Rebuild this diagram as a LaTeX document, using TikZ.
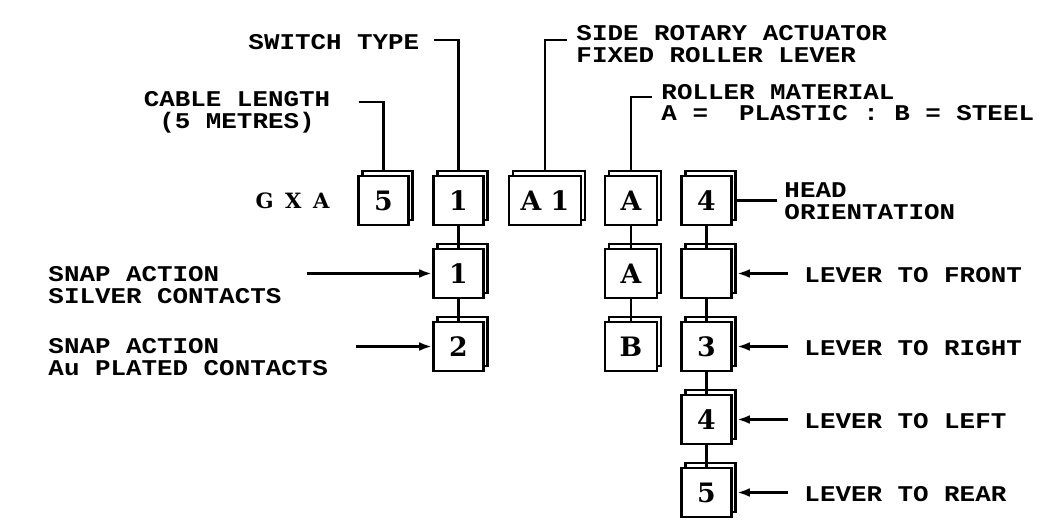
\documentclass[tikz,border=0pt]{standalone}
\usepackage{fontspec}
\newfontfamily\lblfont[FakeStretch=1.15]{Liberation Mono}
\newfontfamily\codefont{DejaVu Serif}
\usetikzlibrary{arrows.meta,shadows}

\begin{document}
\begin{tikzpicture}[x=0.025cm, y=-0.025cm, line width=2.1pt,
    codebox/.style={rectangle, draw, fill=white, minimum width=1.25cm, minimum height=1.225cm, inner sep=0pt,
        font=\codefont\bfseries\fontsize{19}{20}\selectfont, copy shadow={shadow xshift=0.1cm, shadow yshift=0.125cm}},
    lbl/.style={inner sep=0pt, align=left, font=\lblfont\bfseries\fontsize{16}{15.5}\selectfont},
    pointer/.style={-{Latex[length=0.32cm, width=0.22cm]}}]
    \useasboundingbox (0,0) rectangle (1058,526);

    % Code boxes
    \node (gxa) [font=\codefont\bfseries\fontsize{15}{16}\selectfont] at (292.5,200.5) {G\hspace{3pt} X\hspace{3pt} A};
    \node (b5) [codebox] at (383.5,200.5) {5};
    \node (b1) [codebox] at (458.5,200.5) {1};
    \node (bA1) [codebox, minimum width=1.8cm] at (545,200.5) {A 1};
    \node (bA) [codebox, minimum width=1.3cm] at (631,200.5) {A};
    \node (b4) [codebox] at (706.5,200.5) {4};

    % Choices
    \node (b1a) [codebox] at (458.5,273.5) {1};
    \node (b1b) [codebox] at (458.5,346.5) {2};
    \node (bAa) [codebox, minimum width=1.3cm] at (631,273.5) {A};
    \node (bAb) [codebox, minimum width=1.3cm] at (631,346.5) {B};
    \node (b4a) [codebox] at (706.5,273.5) {};
    \node (b4b) [codebox] at (706.5,346.5) {3};
    \node (b4c) [codebox] at (706.5,419.5) {4};
    \node (b4d) [codebox] at (706.5,492.5) {5};

    % Labels
    \node (cable) [lbl, align=center] at (237,112) {CABLE LENGTH\\(5 METRES)};
    \node (swtype) [lbl, anchor=west] at (247,42.5) {SWITCH TYPE};
    \node (actuator) [lbl, anchor=west] at (575,44) {SIDE ROTARY ACTUATOR\\FIXED ROLLER LEVER};
    \node (roller) [lbl, anchor=west] at (660,102.5) {ROLLER MATERIAL\\A =\ \ PLASTIC : B = STEEL};
    \node (head) [lbl, anchor=west] at (783,201.5) {HEAD\\ORIENTATION};
    \node (snap1) [lbl, anchor=west] at (47,285) {SNAP ACTION\\SILVER CONTACTS};
    \node (snap2) [lbl, anchor=west] at (47,357) {SNAP ACTION\\Au PLATED CONTACTS};
    \node (front) [lbl, anchor=west] at (803,275) {LEVER TO FRONT};
    \node (right) [lbl, anchor=west] at (803,348) {LEVER TO RIGHT};
    \node (left) [lbl, anchor=west] at (803,421) {LEVER TO LEFT};
    \node (rear) [lbl, anchor=west] at (803,494) {LEVER TO REAR};

    % Leaders
    \coordinate (cableknee) at (359,102);
    \coordinate (typeknee) at (434,40);
    \coordinate (actknee) at (567,40);
    \coordinate (rollknee) at (652,97);
    \coordinate (headend) at (777,200.5);
    \draw (cableknee) -| ([yshift=0.125cm]b5.north);
    \draw (typeknee) -| ([yshift=0.125cm]b1.north);
    \draw (actknee) -| ([yshift=0.125cm]bA1.north);
    \draw (rollknee) -| ([yshift=0.125cm]bA.north);
    \draw ([xshift=0.1cm]b4.east) -- (headend);

    % Links
    \draw (b1) -- (b1a) -- (b1b);
    \draw (bA) -- (bAa) -- (bAb);
    \draw (b4) -- (b4a) -- (b4b) -- (b4c) -- (b4d);

    % Arrows
    \coordinate (snap1tail) at (307,273.5);
    \coordinate (snap2tail) at (356,346.5);
    \draw[pointer] (snap1tail) -- (b1a);
    \draw[pointer] (snap2tail) -- (b1b);
    \coordinate (fronttail) at (788,273.5);
    \coordinate (righttail) at (788,346.5);
    \coordinate (lefttail) at (788,419.5);
    \coordinate (reartail) at (788,492.5);
    \draw[pointer] (fronttail) -- ([xshift=0.1cm]b4a.east);
    \draw[pointer] (righttail) -- ([xshift=0.1cm]b4b.east);
    \draw[pointer] (lefttail) -- ([xshift=0.1cm]b4c.east);
    \draw[pointer] (reartail) -- ([xshift=0.1cm]b4d.east);
\end{tikzpicture}
\end{document}
